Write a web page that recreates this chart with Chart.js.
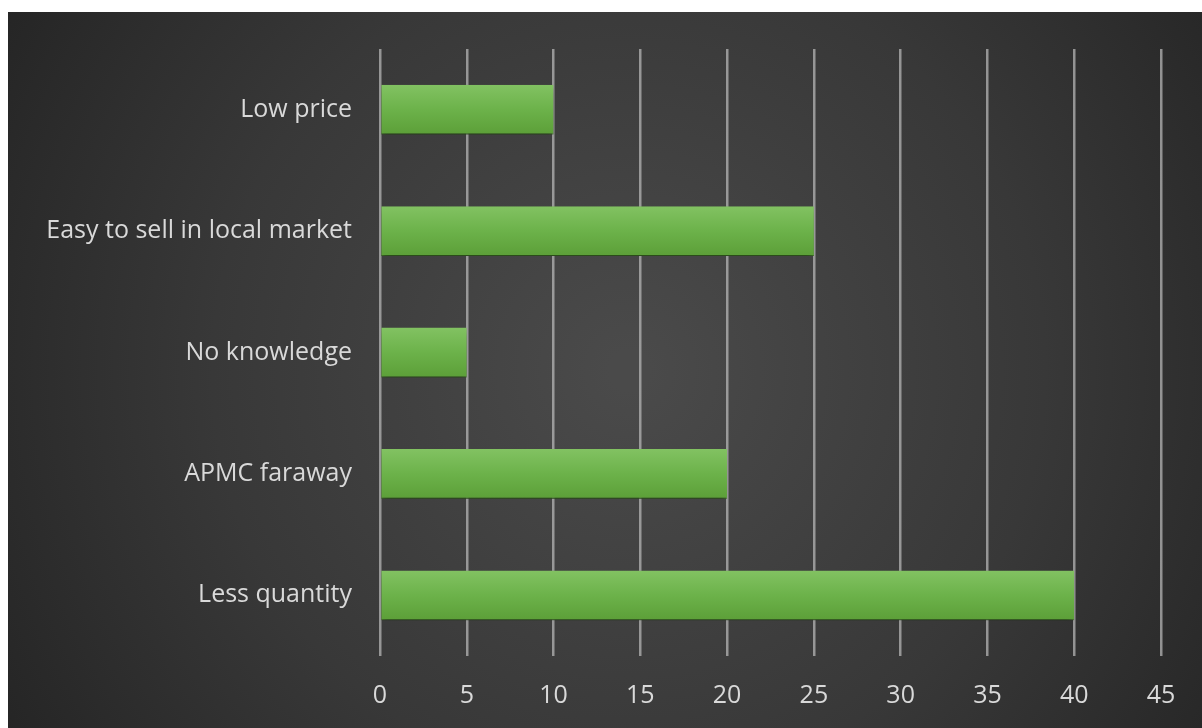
<!DOCTYPE html>
<html>
<head>
<meta charset="utf-8">
<script src="https://cdn.jsdelivr.net/npm/chart.js@4.4.0/dist/chart.umd.min.js"></script>
<style>
  html, body { margin: 0; padding: 0; background: #fff; }
  #wrap { position: absolute; left: 8px; top: 12px; width: 1194px; height: 716px; }
</style>
</head>
<body>
<div id="wrap"><canvas id="reasons"></canvas></div>
<script>
// reasons for not selling through the APMC
var reasonLabels = ['Low price', 'Easy to sell in local market', 'No knowledge', 'APMC faraway', 'Less quantity'];
var reasonCounts = [10, 25, 5, 20, 40];
var axisMax = 45;
var axisStep = 5;

var TEXT = '#d9d9d9';
var FONT = '"Open Sans", Lato, sans-serif';

// dark radial backdrop behind everything
var backdrop = {
    id: 'backdrop',
    beforeDraw: function(chart) {
        var c = chart.ctx, w = chart.width, h = chart.height;
        var g = c.createRadialGradient(w * 0.52, h * 0.5, 20, w * 0.52, h * 0.5, w * 0.62);
        g.addColorStop(0, '#4a4a4a');
        g.addColorStop(0.55, '#383838');
        g.addColorStop(1, '#242424');
        c.save();
        c.fillStyle = g;
        c.fillRect(0, 0, w, h);
        c.restore();
    }
};

// soft drop shadow under the bars
var barShadow = {
    id: 'barShadow',
    beforeDatasetsDraw: function(chart) {
        var c = chart.ctx;
        c.save();
        c.shadowColor = 'rgba(0,0,0,0.55)';
        c.shadowBlur = 7;
        c.shadowOffsetY = 4;
    },
    afterDatasetsDraw: function(chart) {
        chart.ctx.restore();
    }
};

function barFill(context) {
    var chart = context.chart;
    if (!chart.chartArea) return '#6ab04a';
    var y = chart.scales.y.getPixelForValue(context.dataIndex);
    var g = chart.ctx.createLinearGradient(0, y - 25, 0, y + 25);
    g.addColorStop(0, '#82c262');
    g.addColorStop(0.5, '#6cb24a');
    g.addColorStop(1, '#5c9f38');
    return g;
}

new Chart(document.getElementById('reasons').getContext('2d'), {
    type: 'bar',
    data: {
        labels: reasonLabels,
        datasets: [{
            data: reasonCounts,
            backgroundColor: barFill,
            borderColor: '#4f8c30',
            borderWidth: { bottom: 1 },
            borderSkipped: false,
            categoryPercentage: 0.82,
            barPercentage: 0.5
        }]
    },
    options: {
        indexAxis: 'y',
        responsive: true,
        maintainAspectRatio: false,
        animation: false,
        layout: { padding: { top: 37, right: 41, left: 0, bottom: 0 } },
        plugins: { legend: { display: false }, tooltip: { enabled: false } },
        scales: {
            x: {
                min: 0,
                max: axisMax,
                ticks: { stepSize: axisStep, color: TEXT, padding: 25, font: { family: FONT, size: 25 } },
                grid: { color: 'rgba(190,190,190,0.7)', lineWidth: 2.5, drawTicks: false },
                border: { display: false },
                afterFit: function(scale) { scale.height = 72; }
            },
            y: {
                ticks: { color: TEXT, padding: 20, font: { family: FONT, size: 25 } },
                grid: { display: false },
                border: { display: false },
                afterFit: function(scale) {
                    scale.width = 372;
                    scale.paddingTop = 0;
                    scale.paddingBottom = 0;
                }
            }
        }
    },
    plugins: [backdrop, barShadow]
});
</script>
</body>
</html>
